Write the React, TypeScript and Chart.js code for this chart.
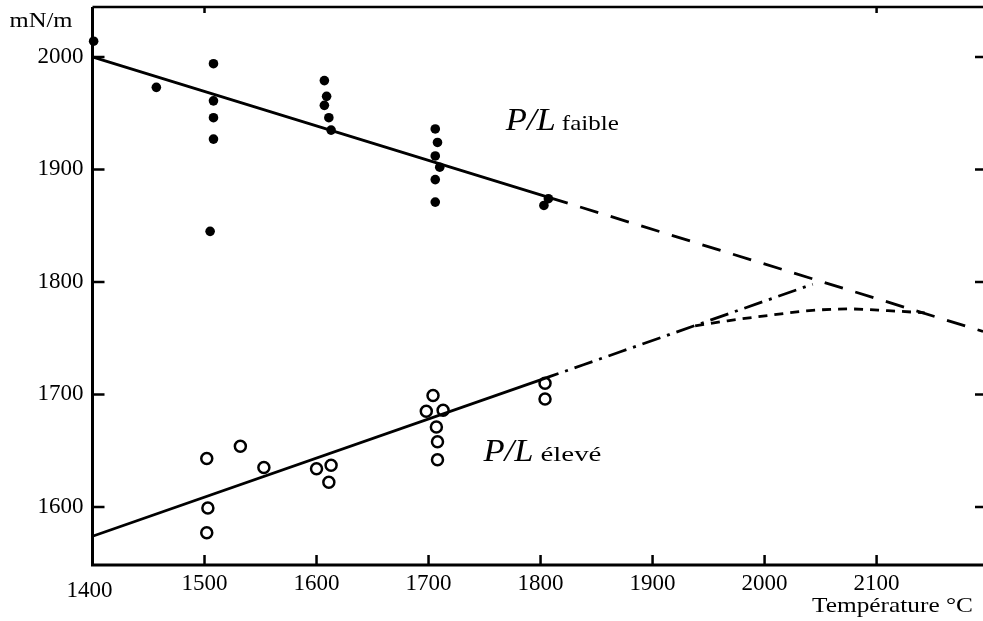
import React, { useEffect, useRef } from "react";
import { Chart, registerables } from "chart.js";

Chart.register(...registerables);

// ---- data ----
const faibleT = [1401, 1457, 1508, 1508, 1508, 1508, 1505, 1607, 1609, 1607, 1611, 1613, 1706, 1708, 1706, 1710, 1706, 1706, 1807, 1803];
const faibleV = [2014, 1973, 1994, 1961, 1946, 1927, 1845, 1979, 1965, 1957, 1946, 1935, 1936, 1924, 1912, 1902, 1891, 1871, 1874, 1868];

const eleveT = [1502, 1532, 1553, 1503, 1502, 1600, 1613, 1611, 1704, 1698, 1713, 1707, 1708, 1708, 1804, 1804];
const eleveV = [1643, 1654, 1635, 1599, 1577, 1634, 1637, 1622, 1699, 1685, 1686, 1671, 1658, 1642, 1710, 1696];

const faibleFitT = [1400, 1808];
const faibleFitV = [2000, 1875];
const faibleExtT = [1808, 2195];
const faibleExtV = [1875, 1756];

const eleveFitT = [1400, 1800];
const eleveFitV = [1574, 1713];
const eleveExtT = [1800, 2043];
const eleveExtV = [1713, 1798];

const curveT = [1938, 1967, 2007, 2040, 2075, 2110, 2143];
const curveV = [1761, 1765.5, 1770.7, 1774.5, 1776, 1774.5, 1772.5];

const xTickValues = [1400, 1500, 1600, 1700, 1800, 1900, 2000, 2100];
const yTickValues = [1600, 1700, 1800, 1900, 2000];
const topTickValues = [1500, 2100];

const yUnit = "mN/m";
const xTitle = "Température °C";
const labelPL = "P/L";
const labelFaible = "faible";
const labelEleve = "élevé";

const pts = (xs: number[], ys: number[]) => xs.map((x, i) => ({ x, y: ys[i] }));

const SERIF = "'Liberation Serif', 'Times New Roman', Times, serif";

function stretchText(ctx: CanvasRenderingContext2D, text: string, x: number, y: number, font: string, width: number) {
  ctx.save();
  ctx.font = font;
  const w = ctx.measureText(text).width;
  ctx.translate(x, y);
  ctx.scale(width / w, 1);
  ctx.textAlign = "left";
  ctx.textBaseline = "alphabetic";
  ctx.fillStyle = "#000";
  ctx.fillText(text, 0, 0);
  ctx.restore();
}

const framePlugin = {
  id: "frame",
  afterDatasetsDraw(chart: any) {
    const { ctx, chartArea: a, scales } = chart;
    const xs = scales.x;
    const ys = scales.y;
    ctx.save();
    ctx.strokeStyle = "#000";
    ctx.lineWidth = 3;
    ctx.lineCap = "butt";
    ctx.beginPath();
    ctx.moveTo(a.left, a.top);
    ctx.lineTo(a.left, a.bottom);
    ctx.lineTo(a.right, a.bottom);
    ctx.stroke();
    ctx.lineWidth = 2.5;
    ctx.beginPath();
    ctx.moveTo(a.left, a.top);
    ctx.lineTo(a.right, a.top);
    ctx.stroke();
    ctx.lineWidth = 2.5;
    ctx.beginPath();
    xTickValues.forEach((v) => {
      if (v === xs.min) return;
      const px = xs.getPixelForValue(v);
      ctx.moveTo(px, a.bottom);
      ctx.lineTo(px, a.bottom - 10);
    });
    topTickValues.forEach((v) => {
      const px = xs.getPixelForValue(v);
      ctx.moveTo(px, a.top);
      ctx.lineTo(px, a.top + 6);
    });
    yTickValues.forEach((v) => {
      const py = ys.getPixelForValue(v);
      ctx.moveTo(a.left, py);
      ctx.lineTo(a.left + 12, py);
      ctx.moveTo(a.right, py);
      ctx.lineTo(a.right - 8, py);
    });
    ctx.stroke();
    ctx.restore();

    ctx.save();
    ctx.font = `23px ${SERIF}`;
    ctx.fillStyle = "#000";
    ctx.textAlign = "center";
    ctx.textBaseline = "middle";
    ctx.fillText(String(xTickValues[0]), xs.getPixelForValue(xTickValues[0]) - 3, a.bottom + 26);
    ctx.restore();

    stretchText(ctx, yUnit, a.left - 83, a.top + 20, `20px ${SERIF}`, 63);
    stretchText(ctx, xTitle, a.right - 171, a.bottom + 47, `22px ${SERIF}`, 161);

    const fx = xs.getPixelForValue(1769);
    const fy = ys.getPixelForValue(1935);
    stretchText(ctx, labelPL, fx, fy, `italic 31px ${SERIF}`, 50);
    stretchText(ctx, labelFaible, fx + 56, fy, `22px ${SERIF}`, 57);
    const ex = xs.getPixelForValue(1749);
    const ey = ys.getPixelForValue(1641);
    stretchText(ctx, labelPL, ex, ey, `italic 31px ${SERIF}`, 50);
    stretchText(ctx, labelEleve, ex + 57, ey, `22px ${SERIF}`, 61);
  },
};

export default function App() {
  const ref = useRef<HTMLCanvasElement | null>(null);
  useEffect(() => {
    document.body.style.margin = "0";
    const canvas = ref.current;
    if (!canvas) return;
    let chart: any = null;
    let cancelled = false;
    const lineDs = (data: any, dash: number[], width = 2.5, tension = 0) => ({
      type: "scatter" as const,
      data,
      showLine: true,
      borderColor: "#000",
      borderWidth: width,
      borderDash: dash,
      pointRadius: 0,
      fill: false,
      tension,
      cubicInterpolationMode: "monotone" as const,
    });
    const build = () => {
      if (cancelled) return;
      chart = new Chart(canvas, {
        type: "scatter",
        data: {
          datasets: [
            lineDs(pts(faibleFitT, faibleFitV), [], 2.8),
            lineDs(pts(faibleExtT, faibleExtV), [19, 13], 2.8),
            lineDs(pts(eleveFitT, eleveFitV), [], 2.8),
            lineDs(pts(eleveExtT, eleveExtV), [19, 7, 3, 7], 2.8),
            lineDs(pts(curveT, curveV), [9, 7], 2.8, 0.4),
            {
              type: "scatter",
              data: pts(faibleT, faibleV),
              pointRadius: 4.8,
              pointBackgroundColor: "#000",
              pointBorderWidth: 0,
              clip: false,
            } as any,
            {
              type: "scatter",
              data: pts(eleveT, eleveV),
              pointRadius: 5.5,
              pointBackgroundColor: "#fff",
              pointBorderColor: "#000",
              pointBorderWidth: 2.5,
              clip: false,
            } as any,
          ],
        },
        options: {
          animation: false,
          responsive: false,
          devicePixelRatio: 1,
          layout: { autoPadding: false, padding: { top: 7, right: 0, left: 0, bottom: 0 } },
          plugins: { legend: { display: false }, tooltip: { enabled: false } },
          scales: {
            x: {
              type: "linear",
              min: 1400,
              max: 2195,
              afterBuildTicks: (s: any) => {
                s.ticks = xTickValues.map((v) => ({ value: v }));
              },
              afterFit: (s: any) => {
                s.height = 56;
                s.paddingLeft = 0;
                s.paddingRight = 0;
              },
              grid: { display: false, drawTicks: false },
              border: { display: false },
              ticks: {
                color: "#000",
                font: { family: SERIF, size: 23 },
                padding: 5,
                maxRotation: 0,
                autoSkip: false,
                callback: (v: any) => (v === xTickValues[0] ? "" : String(v)),
              },
            },
            y: {
              type: "linear",
              min: 1548.4,
              max: 2044.4,
              afterBuildTicks: (s: any) => {
                s.ticks = yTickValues.map((v) => ({ value: v }));
              },
              afterFit: (s: any) => {
                s.width = 92.5;
                s.paddingTop = 0;
                s.paddingBottom = 0;
              },
              grid: { display: false, drawTicks: false },
              border: { display: false },
              ticks: {
                color: "#000",
                font: { family: SERIF, size: 23 },
                padding: 9,
                autoSkip: false,
                callback: (v: any) => String(v),
              },
            },
          },
        },
        plugins: [framePlugin],
      } as any);
    };
    const fonts: any = (document as any).fonts;
    if (fonts && fonts.load) {
      Promise.all([
        fonts.load(`23px "Liberation Serif"`),
        fonts.load(`italic 31px "Liberation Serif"`),
      ]).then(build, build);
    } else {
      build();
    }
    return () => {
      cancelled = true;
      if (chart) chart.destroy();
    };
  }, []);
  return (
    <div style={{ width: 983, height: 621 }}>
      <canvas ref={ref} width={983} height={621} style={{ display: "block", width: 983, height: 621 }} />
    </div>
  );
}
